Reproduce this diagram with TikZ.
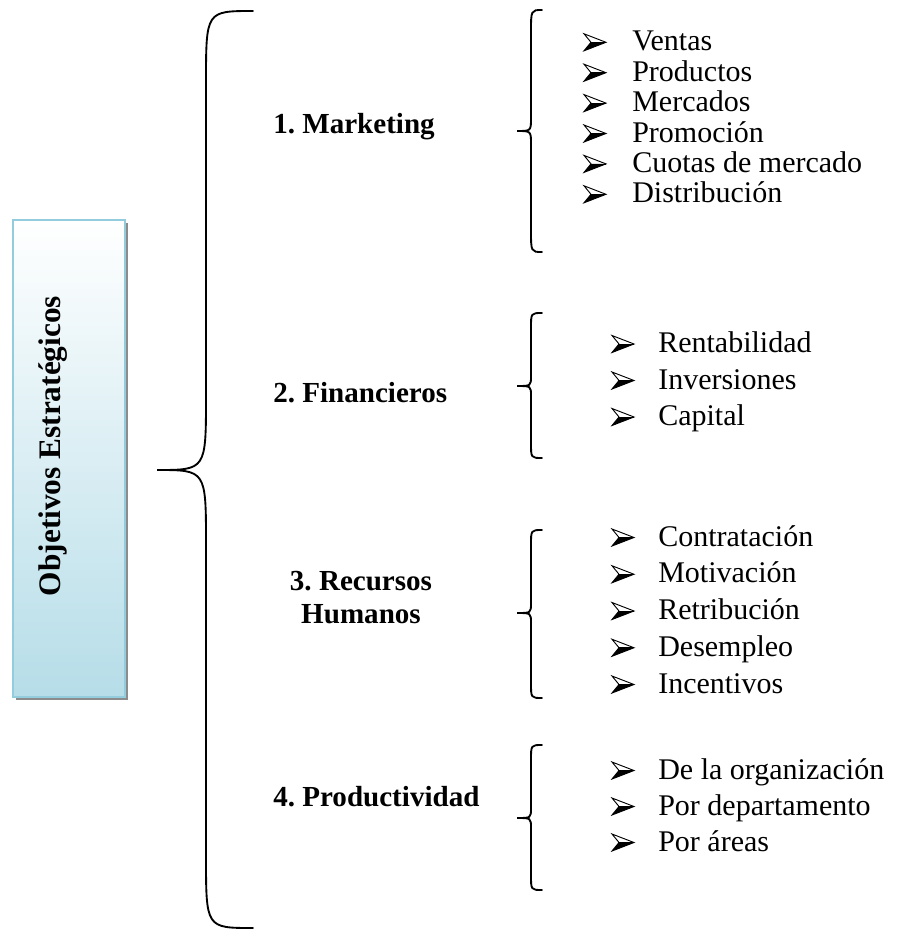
\documentclass[tikz,border=0pt]{standalone}
\usepackage{fontspec}
\setmainfont{Liberation Serif}
\usetikzlibrary{shadows}
\frenchspacing

\definecolor{bordeazul}{HTML}{93CDDD}
\definecolor{fondoazul}{HTML}{B6DDE8}

\begin{document}
\begin{tikzpicture}[x=0.75pt, y=-0.75pt,
    llave/.style={line width=1.4pt, line cap=round},
    caja/.style={draw=bordeazul, line width=1.5pt, top color=white, bottom color=fondoazul,
        minimum width=84pt, minimum height=357.75pt, inner sep=0pt,
        drop shadow={shadow xshift=2.25pt, shadow yshift=-2.25pt, fill=black!45, opacity=1}},
    titulo/.style={font=\fontsize{23.5}{28}\selectfont\bfseries, inner sep=0pt},
    objetivo/.style={anchor=base west, inner sep=0pt, font=\fontsize{21.8}{24.75}\selectfont\bfseries},
    item/.style={anchor=base west, inner sep=0pt, font=\fontsize{22.5}{27}\selectfont},
    % vineta en forma de punta de flecha
    punta/.pic={
        \fill (7,0) -- (22,0) -- (0,8.5) -- cycle;
        \draw[line width=0.7pt, line join=miter] (0,-8.5) -- (22,0) -- (0,8.5) -- (7,0) -- cycle;
        \draw[line width=0.5pt] (7,0) -- (22,0);
    }]
    \useasboundingbox (0,0) rectangle (903,935);

    % Caja lateral.
    \node[caja] (obj) at (69,458.5) {};
    \node[titulo, rotate=90] (tit) at (53,446) {Objetivos Estratégicos};

    % Llave grande.
    \draw[llave] (253,11) .. controls (206,11) .. (206,83) -- (206,396)
        .. controls (206,470) .. (157,470) .. controls (206,470) .. (206,544)
        -- (206,856) .. controls (206,928) .. (253,928);

    % Objetivos.
    \node[objetivo] (mkt) at (273,133) {1. Marketing};
    \node[objetivo] (fin) at (273,402) {2. Financieros};
    \node[objetivo, anchor=base, align=center] (rrhh) at (361,623) {3. Recursos\\Humanos};
    \node[objetivo] (prod) at (273,806) {4. Productividad};

    % Llaves pequenas.
    \draw[llave] (542,10) .. controls (531,10) .. (531,32) -- (531,118)
        .. controls (531,131) .. (517,131) .. controls (531,131) .. (531,144)
        -- (531,230) .. controls (531,252) .. (542,252);
    \draw[llave] (542,313) .. controls (531,313) .. (531,328) -- (531,376)
        .. controls (531,386) .. (517,386) .. controls (531,386) .. (531,396)
        -- (531,443) .. controls (531,458) .. (542,458);
    \draw[llave] (542,530) .. controls (531,530) .. (531,545) -- (531,603)
        .. controls (531,613) .. (517,613) .. controls (531,613) .. (531,623)
        -- (531,683) .. controls (531,698) .. (542,698);
    \draw[llave] (542,745) .. controls (531,745) .. (531,760) -- (531,808)
        .. controls (531,818) .. (517,818) .. controls (531,818) .. (531,828)
        -- (531,875) .. controls (531,890) .. (542,890);

    % Listas.
    \foreach \t [count=\i, evaluate=\i as \y using 20.4+30.4*\i] in
        {Ventas, Productos, Mercados, Promoción, Cuotas de mercado, Distribución} {
        \pic (vmk\i) at (584,\y-8.5) {punta};
        \node[item] (mk\i) at (632,\y) {\t};
    }
    \foreach \t [count=\i, evaluate=\i as \y using 316+36.5*\i] in
        {Rentabilidad, Inversiones, Capital} {
        \pic (vfi\i) at (612,\y-8.5) {punta};
        \node[item] (fi\i) at (658,\y) {\t};
    }
    \foreach \t [count=\i, evaluate=\i as \y using 509.25+36.75*\i] in
        {Contratación, Motivación, Retribución, Desempleo, Incentivos} {
        \pic (vrh\i) at (612,\y-8.5) {punta};
        \node[item] (rh\i) at (658,\y) {\t};
    }
    \foreach \t [count=\i, evaluate=\i as \y using 743+36*\i] in
        {De la organización, Por departamento, Por áreas} {
        \pic (vpr\i) at (612,\y-8.5) {punta};
        \node[item] (pr\i) at (658,\y) {\t};
    }
\end{tikzpicture}
\end{document}
